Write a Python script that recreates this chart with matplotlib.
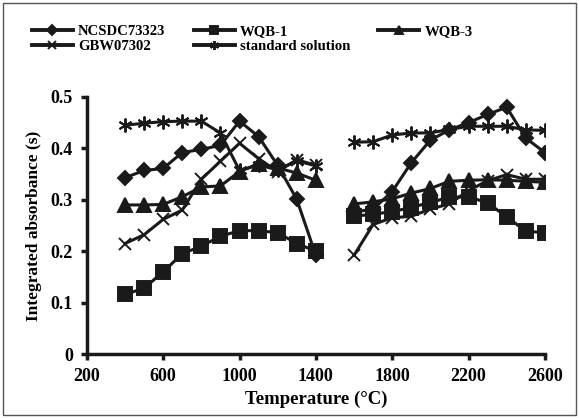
import matplotlib.pyplot as plt
from matplotlib.patches import Rectangle

plt.rcParams['font.family'] = ['Liberation Serif', 'DejaVu Serif']
plt.rcParams['font.weight'] = 'bold'

# temperatures (two heating programmes, gap at 1500)
temp_a = [400, 500, 600, 700, 800, 900, 1000, 1100, 1200, 1300, 1400]
temp_b = [1600, 1700, 1800, 1900, 2000, 2100, 2200, 2300, 2400, 2500, 2600]

ncsdc_a = [0.343, 0.357, 0.361, 0.392, 0.398, 0.406, 0.453, 0.423, 0.367, 0.301, 0.192]
ncsdc_b = [0.276, 0.282, 0.316, 0.372, 0.416, 0.436, 0.450, 0.466, 0.480, 0.420, 0.392]

wqb1_a = [0.116, 0.128, 0.160, 0.195, 0.210, 0.229, 0.240, 0.240, 0.236, 0.215, 0.200]
wqb1_b = [0.268, 0.272, 0.277, 0.285, 0.295, 0.305, 0.306, 0.294, 0.267, 0.239, 0.236]

wqb3_a = [0.290, 0.290, 0.291, 0.306, 0.325, 0.327, 0.355, 0.370, 0.362, 0.352, 0.338]
wqb3_b = [0.292, 0.296, 0.302, 0.313, 0.322, 0.336, 0.338, 0.339, 0.338, 0.336, 0.334]

gbw_a = [0.215, 0.232, 0.262, 0.280, 0.340, 0.375, 0.410, 0.380, 0.355, 0.378, 0.367]
gbw_b = [0.192, 0.252, 0.265, 0.268, 0.282, 0.292, 0.318, 0.337, 0.349, 0.340, 0.340]

std_a = [0.445, 0.449, 0.452, 0.453, 0.453, 0.430, 0.357, 0.368, 0.358, 0.376, 0.366]
std_b = [0.412, 0.413, 0.426, 0.430, 0.430, 0.437, 0.443, 0.443, 0.443, 0.436, 0.435]

series = [
    ('NCSDC73323', ncsdc_a, ncsdc_b, 'D', 7.5),
    ('WQB-1', wqb1_a, wqb1_b, 's', 9.5),
    ('WQB-3', wqb3_a, wqb3_b, '^', 9.5),
    ('GBW07302', gbw_a, gbw_b, 'x', 9),
    ('standard solution', std_a, std_b, (6, 2, 0), 10),
]

col = '#1a1a1a'
fig = plt.figure(figsize=(5.79, 4.18), dpi=100)
ax = fig.add_axes([0.150, 0.153, 0.791, 0.615])

handles = {}
for name, ya, yb, mk, ms in series:
    for xs, ys in ((temp_a, ya), (temp_b, yb)):
        ln, = ax.plot(xs, ys, color=col, lw=2.2, marker=mk, ms=ms,
                      mec=col, mfc=col, mew=1.4, label=name)
    handles[name] = ln

ax.set_xlim(200, 2600)
ax.set_ylim(0, 0.5)
ax.set_xticks(range(200, 2601, 400))
ax.set_yticks([0, 0.1, 0.2, 0.3, 0.4, 0.5])
ax.set_yticklabels(['0', '0.1', '0.2', '0.3', '0.4', '0.5'])
for s in ('top', 'right'):
    ax.spines[s].set_visible(False)
for s in ('left', 'bottom'):
    ax.spines[s].set_linewidth(2.5)
    ax.spines[s].set_color(col)
ax.tick_params(axis='both', labelsize=13, width=2.5, length=4, color=col, pad=6)
ax.set_xlabel('Temperature (\u00b0C)', fontsize=13.5, fontweight='bold', labelpad=4)
ax.set_ylabel('Integrated absorbance (s)', fontsize=12.5, fontweight='bold', labelpad=6)

order = ['NCSDC73323', 'GBW07302', 'WQB-1', 'standard solution', 'WQB-3']
leg = fig.legend([handles[n] for n in order], order, ncol=3, loc='upper left',
                 bbox_to_anchor=(0.032, 0.972), frameon=False, fontsize=10.6,
                 handlelength=2.8, handletextpad=0.35, columnspacing=1.9,
                 labelspacing=0.08, markerscale=0.65)
for ln in leg.get_lines():
    ln.set_linewidth(2.8)

fig.patches.append(Rectangle((0.006, 0.006), 0.988, 0.988, transform=fig.transFigure,
                             fill=False, ec='#555555', lw=1))
fig.savefig('out.png', dpi=100)
